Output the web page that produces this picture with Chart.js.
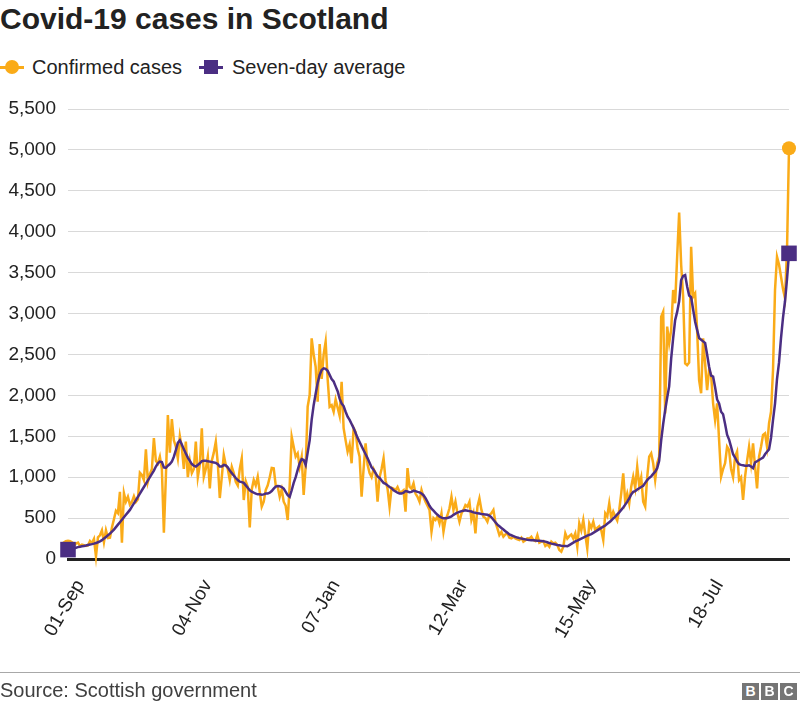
<!DOCTYPE html>
<html>
<head>
<meta charset="utf-8">
<script src="https://cdn.jsdelivr.net/npm/chart.js@4.4.1/dist/chart.umd.min.js"></script>
<style>
html,body{margin:0;padding:0;background:#fff;}
body{width:800px;height:707px;position:relative;overflow:hidden;font-family:"Liberation Sans",Arial,Helvetica,sans-serif;color:#222;}
#title{position:absolute;left:0;top:4px;font-size:30px;line-height:30px;font-weight:bold;color:#222;white-space:nowrap;}
.legtxt{position:absolute;top:57px;font-size:20px;line-height:20px;color:#222;white-space:nowrap;}
.legline{position:absolute;top:66px;width:24px;height:3px;}
.legdot{position:absolute;top:60px;width:14px;height:14px;}
#chart{position:absolute;left:0;top:0;}
#rule{position:absolute;left:0;top:672px;width:800px;height:1px;background:#a8a8a8;}
#source{position:absolute;left:0;top:680px;font-size:20px;line-height:20px;color:#404040;white-space:nowrap;}
.bbc{position:absolute;top:683px;width:17px;height:17px;background:#757575;color:#fff;font-weight:bold;font-size:14px;line-height:17px;text-align:center;}
</style>
</head>
<body>
<div id="title">Covid-19 cases in Scotland</div>
<div class="legline" style="left:0;background:#FAAB18"></div>
<div class="legdot" style="left:5px;background:#FAAB18;border-radius:50%"></div>
<div class="legtxt" style="left:32px">Confirmed cases</div>
<div class="legline" style="left:199px;background:#4B2E83"></div>
<div class="legdot" style="left:204px;background:#4B2E83"></div>
<div class="legtxt" style="left:232px">Seven-day average</div>
<canvas id="chart" width="800" height="707"></canvas>
<div id="rule"></div>
<div id="source">Source: Scottish government</div>
<div class="bbc" style="left:742px">B</div>
<div class="bbc" style="left:761px">B</div>
<div class="bbc" style="left:780px">C</div>
<script>
// ---- DATA ----
const startDate = '2020-09-01';
const tickLabels = ['01-Sep', '04-Nov', '07-Jan', '12-Mar', '15-May', '18-Jul'];
const tickEvery = 64;
const yTicks = [0, 500, 1000, 1500, 2000, 2500, 3000, 3500, 4000, 4500, 5000, 5500];

// Daily confirmed cases (one value per day from 01-Sep)
const confirmedCases = [
  154, 150, 165, 160, 190, 200, 158, 175, 170, 160,
  165, 220, 195, 245, 30, 265, 290, 350, 205, 350,
  255, 260, 385, 485, 590, 560, 822, 200, 806, 700,
  760, 665, 697, 767, 697, 730, 1054, 1027, 964, 1340,
  945, 1038, 1100, 1478, 1200, 1167, 1250, 1100, 320, 1000,
  1760, 1300, 1710, 1450, 1372, 1230, 1500, 1357, 1100, 1434,
  1000, 1200, 1050, 1100, 1434, 1000, 1150, 1597, 1006, 1100,
  1250, 864, 1200, 1300, 1434, 1170, 745, 1000, 1271, 1150,
  1100, 965, 1128, 1050, 945, 900, 1100, 1230, 721, 950,
  880, 385, 850, 965, 900, 1006, 822, 640, 700, 843,
  900, 1000, 1112, 1108, 900, 884, 761, 850, 700, 650,
  477, 900, 1495, 1372, 1250, 1290, 1128, 1250, 782, 1128,
  1861, 2004, 2697, 2500, 2350, 1922, 2628, 2200, 2500, 2655,
  2200, 1861, 1880, 1800, 1950, 1850, 1750, 2167, 1600, 1450,
  1312, 1400, 1170, 1600, 1550, 1350, 1250, 761, 1100, 1413,
  1150, 1050, 1000, 1100, 1050, 700, 1000, 1100, 1230, 960,
  860, 640, 870, 860, 840, 880, 820, 820, 840, 578,
  1110, 884, 860, 925, 800, 761, 700, 843, 760, 700,
  650, 599, 334, 500, 477, 520, 436, 558, 334, 480,
  538, 620, 761, 599, 700, 560, 456, 558, 600, 660,
  640, 700, 477, 560, 314, 640, 741, 600, 517, 500,
  456, 538, 560, 599, 450, 375, 293, 330, 273, 300,
  314, 260, 253, 273, 250, 240, 232, 260, 212, 230,
  253, 250, 273, 232, 220, 293, 200, 212, 220, 159,
  180, 150, 212, 190, 200, 171, 110, 90, 150, 314,
  250, 280, 300, 250, 314, 150, 436, 350, 477, 300,
  130, 436, 380, 456, 350, 380, 400, 350, 232, 558,
  520, 680, 500, 578, 520, 470, 600, 803, 1047, 700,
  800, 680, 884, 1006, 870, 1128, 900, 1000, 700, 640,
  1000, 1250, 1291, 1170, 965, 1169, 1250, 2962, 3023, 1780,
  2840, 2636, 2798, 3288, 3125, 3695, 4234, 3600, 3206, 2391,
  2370, 2400, 3817, 3206, 3247, 2798, 2187, 2025, 2697, 2391,
  2065, 2310, 2250, 1903, 1699, 1903, 1454, 1006, 1100, 1170,
  1372, 1332, 1100, 1000, 1250, 1312, 965, 1000, 721, 1006,
  1200, 1372, 1170, 1413, 1128, 864, 1250, 1372, 1515, 1535,
  1372, 1658, 1800, 2310, 3288, 3695, 3600, 3450, 3300, 3186,
  3776, 5021
];

// Seven-day average
const sevenDayAverage = [
  115, 120, 125, 130, 138, 145, 150, 155, 160, 165,
  172, 178, 182, 188, 195, 205, 215, 230, 250, 270,
  290, 310, 335, 360, 390, 420, 450, 480, 510, 540,
  570, 600, 640, 680, 720, 760, 800, 840, 880, 920,
  960, 1000, 1040, 1080, 1130, 1170, 1190, 1185, 1120, 1115,
  1140, 1160, 1190, 1250, 1330, 1420, 1450, 1400, 1340, 1290,
  1240, 1200, 1160, 1140, 1130, 1150, 1170, 1195, 1200, 1200,
  1195, 1190, 1185, 1180, 1175, 1160, 1130, 1130, 1150, 1145,
  1120, 1080, 1050, 1020, 990, 965, 945, 940, 930, 900,
  870, 840, 822, 810, 800, 790, 790, 785, 790, 800,
  800, 810, 830, 860, 885, 892, 890, 880, 860, 820,
  780, 760, 840, 930, 1000, 1090, 1170, 1220, 1210, 1150,
  1300, 1450, 1700, 1880, 2020, 2150, 2250, 2310, 2330, 2325,
  2300, 2250, 2200, 2170, 2110, 2050, 1960, 1900, 1870, 1800,
  1740, 1700, 1650, 1600, 1540, 1480, 1430, 1380, 1330, 1280,
  1230, 1175, 1120, 1090, 1050, 1010, 990, 960, 930, 920,
  900, 880, 865, 840, 825, 810, 800, 800, 810, 830,
  825, 815, 820, 835, 830, 820, 815, 800, 780, 745,
  700, 650, 615, 590, 565, 540, 520, 505, 497, 497,
  500, 510, 520, 540, 555, 566, 575, 585, 590, 595,
  590, 585, 580, 570, 565, 558, 555, 550, 548, 545,
  540, 530, 510, 480, 450, 420, 400, 380, 360, 340,
  320, 300, 290, 280, 270, 262, 255, 250, 245, 240,
  235, 232, 230, 228, 226, 224, 222, 220, 218, 212,
  205, 195, 188, 183, 178, 172, 168, 162, 159, 158,
  155, 170, 185, 200, 215, 225, 238, 250, 262, 273,
  285, 295, 305, 320, 334, 350, 365, 380, 395, 410,
  430, 450, 470, 495, 517, 545, 570, 600, 630, 665,
  700, 740, 790, 820, 830, 850, 865, 880, 895, 930,
  965, 990, 1010, 1040, 1067, 1110, 1200, 1450, 1650, 1820,
  1970, 2110, 2450, 2700, 2920, 3020, 3150, 3410, 3460, 3470,
  3330, 3220, 3200, 3050, 2900, 2800, 2700, 2680, 2660, 2640,
  2500, 2350, 2240, 2228, 2100, 1950, 1900, 1800, 1770, 1650,
  1520, 1460, 1370, 1280, 1240, 1190, 1160, 1150, 1145, 1140,
  1140, 1145, 1130, 1110, 1180, 1195, 1210, 1225, 1240, 1280,
  1310, 1340, 1480, 1700, 1900, 2200, 2400, 2700, 2950, 3150,
  3420, 3736
];

// ---- CHART ----
const ORANGE = '#FAAB18';
const PURPLE = '#4B2E83';
const FONT = '"Liberation Sans", Arial, Helvetica, sans-serif';

// one category per day
const categories = [];
{
  const d0 = new Date(startDate + 'T00:00:00Z');
  for (let i = 0; i < confirmedCases.length; i++) {
    const d = new Date(d0.getTime() + i * 86400000);
    categories.push(d.toISOString().slice(0, 10));
  }
}
const lastIdx = confirmedCases.length - 1;
const endPoint = (r) => (c) => (c.dataIndex === 0 || c.dataIndex === lastIdx) ? r : 0;

new Chart(document.getElementById('chart'), {
  type: 'line',
  data: {
    labels: categories,
    datasets: [
      {
        label: 'Seven-day average',
        data: sevenDayAverage,
        borderColor: PURPLE,
        backgroundColor: PURPLE,
        borderWidth: 2.5,
        pointStyle: 'rect',
        pointRadius: endPoint(11),
        pointBorderWidth: 0,
        pointHoverRadius: 0,
        tension: 0,
        order: 1,
        clip: false
      },
      {
        label: 'Confirmed cases',
        data: confirmedCases,
        borderColor: ORANGE,
        backgroundColor: ORANGE,
        borderWidth: 2.5,
        pointStyle: 'circle',
        pointRadius: endPoint(7),
        pointBorderWidth: 0,
        pointHoverRadius: 0,
        tension: 0,
        order: 2,
        clip: false
      }
    ]
  },
  options: {
    responsive: false,
    animation: false,
    events: [],
    layout: { padding: { top: 109, left: 0, right: 9, bottom: 48 } },
    plugins: { legend: { display: false }, tooltip: { enabled: false } },
    scales: {
      x: {
        type: 'category',
        grid: { display: false },
        border: { display: true, color: '#222', width: 3 },
        ticks: {
          autoSkip: false,
          maxRotation: 60,
          minRotation: 60,
          padding: 9,
          labelOffset: 12,
          color: '#222',
          font: { size: 19, family: FONT },
          callback: (v, i) => (i % tickEvery === 0 && tickLabels[i / tickEvery]) ? tickLabels[i / tickEvery] : ''
        },
        afterFit: (s) => { s.height = 100; s.paddingRight = 0; s.paddingLeft = 0; }
      },
      y: {
        min: yTicks[0],
        max: yTicks[yTicks.length - 1],
        afterBuildTicks: (s) => { s.ticks = yTicks.map(v => ({ value: v })); },
        grid: { color: '#d9d9d9', lineWidth: 1, drawTicks: false },
        border: { display: false },
        ticks: {
          padding: 12,
          color: '#222',
          font: { size: 19, family: FONT },
          callback: (v) => Number(v).toLocaleString('en-US')
        },
        afterFit: (s) => { s.width = 68; }
      }
    }
  }
});
</script>
</body>
</html>
